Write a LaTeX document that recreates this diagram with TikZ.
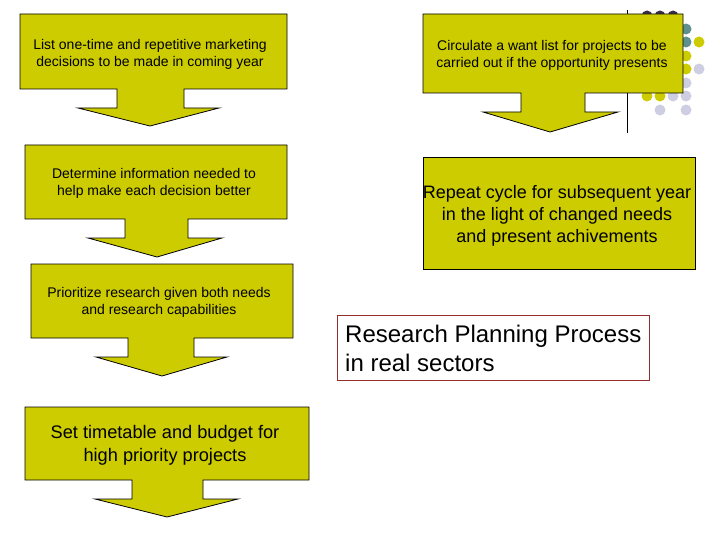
\documentclass[tikz,border=0pt]{standalone}
\usepackage{fontspec}
\setmainfont{Liberation Sans}
\definecolor{olivefill}{RGB}{204,204,0}
\definecolor{dotpurple}{RGB}{58,42,78}
\definecolor{dotteal}{RGB}{95,144,144}
\definecolor{dotlav}{RGB}{206,206,226}
\definecolor{titlered}{RGB}{150,45,45}
\tikzset{
  flowshape/.style={fill=olivefill, draw=black, line width=0.8pt, line join=miter},
  smalltxt/.style={font=\fontsize{14}{17}\selectfont, align=center, inner sep=0pt},
  bigtxt/.style={font=\fontsize{18.2}{22.5}\selectfont, align=center, inner sep=0pt},
  dot/.style={circle, minimum size=11pt, inner sep=0pt}
}
\begin{document}
\begin{tikzpicture}[x=1pt,y=-1pt]
\useasboundingbox (0,0) rectangle (720,540);
% decorative dots
\foreach \p in {(647,16),(660,16),(673,16)} \node[dot, fill=dotpurple] at \p {};
\foreach \p in {(686,29),(686,42)} \node[dot, fill=dotteal] at \p {};
\foreach \p in {(699,42),(686,56),(686,69),(647,96),(660,96)} \node[dot, fill=olivefill] at \p {};
\foreach \p in {(699,69),(686,83),(673,96),(686,96),(660,110),(686,110)} \node[dot, fill=dotlav] at \p {};
\coordinate (vtop) at (627,10);
\coordinate (vbot) at (627,133);
\draw[line width=0.8pt] (vtop) -- (vbot);
% left column
\draw[flowshape] (20,14) -- (287,14) -- (287,89) -- (184,89) -- (184,108) -- (219,108) -- (150,126) -- (78,108) -- (117,108) -- (117,89) -- (20,89) -- cycle;
\node[smalltxt] (t1) at (150,54) {List one-time and repetitive marketing\\ decisions to be made in coming year};
\draw[flowshape] (25,145) -- (287,145) -- (287,219) -- (188,219) -- (188,238) -- (222,238) -- (157,257) -- (88,238) -- (125,238) -- (125,219) -- (25,219) -- cycle;
\node[smalltxt] (t2) at (154,183) {Determine information needed to\\ help make each decision better};
\draw[flowshape] (31,264) -- (293,264) -- (293,338) -- (194,338) -- (194,357) -- (227,357) -- (162,376) -- (96,357) -- (128,357) -- (128,338) -- (31,338) -- cycle;
\node[smalltxt] (t3) at (159,302) {Prioritize research given both needs\\ and research capabilities};
\draw[flowshape] (25,407) -- (309,407) -- (309,480) -- (203,480) -- (203,499) -- (238,499) -- (167,517) -- (95,499) -- (132,499) -- (132,480) -- (25,480) -- cycle;
\node[bigtxt] (t4) at (165,445.5) {Set timetable and budget for\\ high priority projects};
% right column
\draw[flowshape] (423,14) -- (683,14) -- (683,93) -- (585,93) -- (585,112) -- (618,112) -- (550,132) -- (483,112) -- (521,112) -- (521,93) -- (423,93) -- cycle;
\node[smalltxt] (t5) at (552,55) {Circulate a want list for projects to be\\ carried out if the opportunity presents};
\draw[flowshape] (423,157) rectangle (695,269);
\node[bigtxt, font=\fontsize{18}{22}\selectfont] (t6) at (557,216) {Repeat cycle for subsequent year\\ in the light of changed needs\\ and present achivements};
% title
\draw[draw=titlered, fill=white, line width=0.8pt] (337,315) rectangle (649,380);
\node[font=\fontsize{24}{29}\selectfont, align=left, inner sep=0pt, anchor=west] (title) at (345,348) {Research Planning Process\\in real sectors};
\end{tikzpicture}
\end{document}
